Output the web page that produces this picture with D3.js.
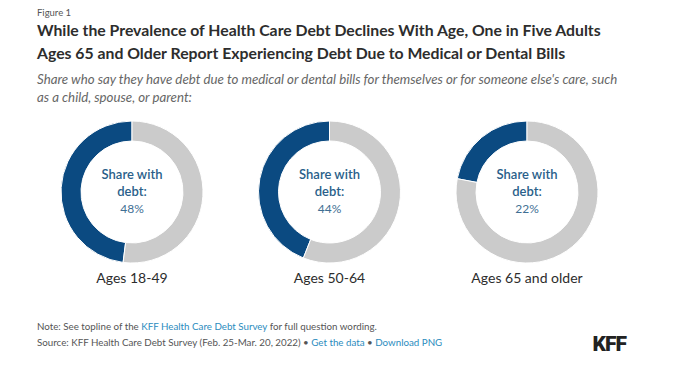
<!DOCTYPE html>
<html><head><meta charset="utf-8">
<script src="https://cdn.jsdelivr.net/npm/d3@7"></script>
<style>body{margin:0;background:#fff;}svg{display:block;}</style>
</head><body><svg id="c" width="676" height="368"></svg>
<script>
const categories = ["Ages 18-49", "Ages 50-64", "Ages 65 and older"];
const shareWithDebt = [48, 44, 22];
const centerLabel = ["Share with", "debt:"];
const titleLines = ["While the Prevalence of Health Care Debt Declines With Age, One in Five Adults",
  "Ages 65 and Older Report Experiencing Debt Due to Medical or Dental Bills"];
const subtitleLines = ["Share who say they have debt due to medical or dental bills for themselves or for someone else's care, such",
  "as a child, spouse, or parent:"];

const svg = d3.select("#c");
const W = 676, H = 368;
svg.append("rect").attr("width", W).attr("height", H).attr("fill", "#fff");
const font = "'Source Sans Pro','Lato','Open Sans',sans-serif";
const L = 37;

function fit(sel, target) {
  const n = sel.node(); const w = n.getComputedTextLength();
  const fs = parseFloat(sel.attr("font-size"));
  sel.attr("font-size", (fs * target / w).toFixed(2));
}

svg.append("text").attr("x", L).attr("y", 16).attr("font-family", font).attr("font-size", 9.5)
  .attr("fill", "#555").text("Figure 1");

const tY = [36, 59];
let titleFs = null;
titleLines.forEach((t, i) => {
  const s = svg.append("text").attr("x", L).attr("y", tY[i]).attr("font-family", font)
    .attr("font-size", 17).attr("font-weight", 700).attr("fill", "#2d2d2d").text(t);
  if (i === 0) { fit(s, 564); titleFs = s.attr("font-size"); } else s.attr("font-size", titleFs);
});
const sY = [84, 102];
let subFs = null;
subtitleLines.forEach((t, i) => {
  const s = svg.append("text").attr("x", L).attr("y", sY[i]).attr("font-family", font)
    .attr("font-size", 12.5).attr("font-style", "italic").attr("fill", "#666").text(t);
  if (i === 0) { fit(s, 581); subFs = s.attr("font-size"); } else s.attr("font-size", subFs);
});

const x = d3.scalePoint().domain(categories).range([132, 527]);
const cy = 192, R = 71, r = 51;
const arc = d3.arc().innerRadius(r).outerRadius(R);

categories.forEach((c, i) => {
  const v = shareWithDebt[i];
  const g = svg.append("g").attr("transform", `translate(${x(c)},${cy})`);
  const arcs = d3.pie().sort(null).value(d => d).startAngle(0).endAngle(-2 * Math.PI)([v, 100 - v]);
  g.selectAll("path").data(arcs).join("path").attr("d", arc)
    .attr("fill", (d, j) => j === 0 ? "#0b4a81" : "#cbcbcb")
    .attr("stroke", "#fff").attr("stroke-width", 1);
  g.append("text").attr("text-anchor", "middle").attr("y", -13).attr("font-family", font)
    .attr("font-size", 13).attr("font-weight", 600).attr("fill", "#2a5f8a").text(centerLabel[0]);
  g.append("text").attr("text-anchor", "middle").attr("y", 4).attr("font-family", font)
    .attr("font-size", 13).attr("font-weight", 600).attr("fill", "#2a5f8a").text(centerLabel[1]);
  g.append("text").attr("text-anchor", "middle").attr("y", 21).attr("font-family", font)
    .attr("font-size", 12).attr("fill", "#3f6f94").text(v + "%");
  svg.append("text").attr("x", x(c)).attr("y", 283).attr("text-anchor", "middle").attr("font-family", font)
    .attr("font-size", 14).attr("fill", "#2d2d2d").text(c);
});

const note = svg.append("text").attr("x", L).attr("y", 330).attr("font-family", font).attr("font-size", 9.5).attr("fill", "#555");
note.append("tspan").text("Note: See topline of the ");
note.append("tspan").attr("fill", "#2b8cbe").text("KFF Health Care Debt Survey");
note.append("tspan").text(" for full question wording.");
fit(note, 340);
const src = svg.append("text").attr("x", L).attr("y", 346).attr("font-family", font).attr("font-size", 9.5).attr("fill", "#555");
src.append("tspan").text("Source: KFF Health Care Debt Survey (Feb. 25-Mar. 20, 2022) \u2022 ");
src.append("tspan").attr("fill", "#2b8cbe").text("Get the data");
src.append("tspan").text(" \u2022 ");
src.append("tspan").attr("fill", "#2b8cbe").text("Download PNG");
src.attr("font-size", note.attr("font-size"));

svg.append("text").attr("x", 626).attr("y", 351).attr("text-anchor", "end").attr("font-family", "'Roboto','Lato',sans-serif")
  .attr("font-size", 21).attr("font-weight", 900).attr("fill", "#222").attr("letter-spacing", -1).text("KFF");
</script></body></html>
